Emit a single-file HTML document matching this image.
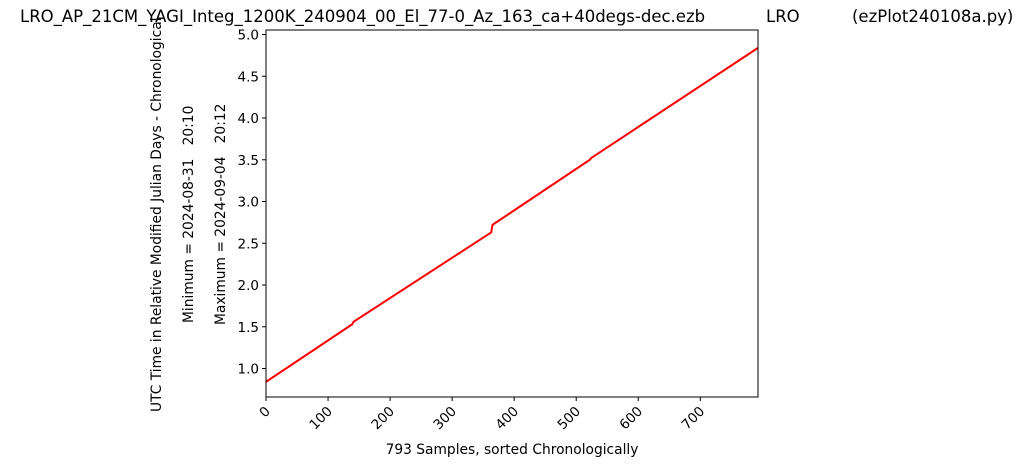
<!DOCTYPE html>
<html><head><meta charset="utf-8"><style>
body{margin:0;background:#fff;width:1024px;height:466px;overflow:hidden;font-family:"Liberation Sans","DejaVu Sans",sans-serif}
svg text{font-family:"DejaVu Sans","Liberation Sans",sans-serif;fill:#000;white-space:pre}
</style></head><body>
<svg id="c" width="1024" height="466">
<text x="20" y="22" font-size="16.5">LRO_AP_21CM_YAGI_Integ_1200K_240904_00_El_77-0_Az_163_ca+40degs-dec.ezb</text>
<text x="766" y="22" font-size="16.5">LRO</text>
<text x="852" y="22" font-size="16.5">(ezPlot240108a.py)</text>
<text transform="translate(161,412) rotate(-90)" font-size="13.8">UTC Time in Relative Modified Julian Days - Chronological</text>
<text transform="translate(193,323) rotate(-90)" font-size="13.8" xml:space="preserve">Minimum = 2024-08-31   20:10</text>
<text transform="translate(225,325) rotate(-90)" font-size="13.8" xml:space="preserve">Maximum = 2024-09-04   20:12</text>
<text x="512" y="454" font-size="13.8" text-anchor="middle">793 Samples, sorted Chronologically</text>
<g id="ax"></g>
<rect x="266" y="30" width="492" height="367" fill="none" stroke="#000" stroke-width="1"/>
</svg>
<script>
const sampleIdx=[0,139,141,363,365,522,524,793];
const mjdValues=[0.84,1.53,1.56,2.63,2.72,3.50,3.52,4.84];
const xTicks=[0,100,200,300,400,500,600,700];
const yTicks=[1.0,1.5,2.0,2.5,3.0,3.5,4.0,4.5,5.0];
const L=266,R=758,T=30,B=397;
const X0=0,X1=793,Y0=0.659,Y1=5.054;
const sx=v=>L+(v-X0)/(X1-X0)*(R-L);
const sy=v=>B-(v-Y0)/(Y1-Y0)*(B-T);
const ns='http://www.w3.org/2000/svg',g=document.getElementById('ax');
function mk(t,a){const e=document.createElementNS(ns,t);for(const k in a)e.setAttribute(k,a[k]);g.appendChild(e);return e;}
xTicks.forEach(v=>{const x=sx(v);
const t=mk('line',{x1:x,x2:x,y1:B,y2:B+4,stroke:'#000'});


const l=mk('text',{transform:`translate(${x+5},${B+15}) rotate(-45)`,'font-size':13.5,'text-anchor':'end'});
l.textContent=v;

});
yTicks.forEach(v=>{const y=sy(v);
const t=mk('line',{x1:L-4,x2:L,y1:y,y2:y,stroke:'#000'});


const l=mk('text',{x:L-7,y:y+5,'font-size':13.5,'text-anchor':'end'});
l.textContent=v.toFixed(1);

});
const p=mk('polyline',{points:sampleIdx.map((s,i)=>sx(s)+','+sy(mjdValues[i])).join(' '),fill:'none',stroke:'#ff0000','stroke-width':2});


</script>
</body></html>
